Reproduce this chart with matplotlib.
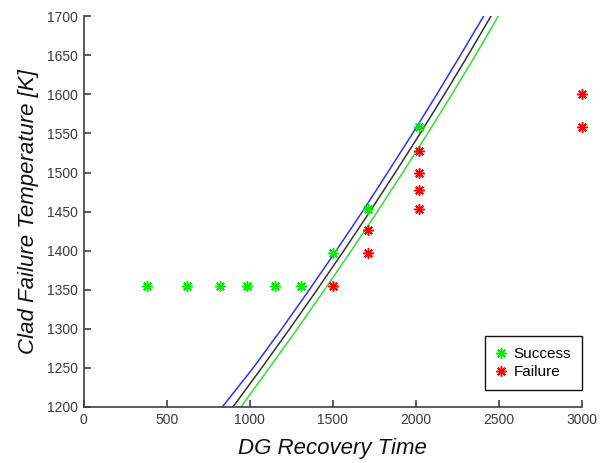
import matplotlib
matplotlib.use("Agg")
import matplotlib.pyplot as plt

# success / failure runs
success_time = [380, 620, 820, 985, 1150, 1310, 1500, 1710, 2020]
success_temp = [1355, 1355, 1355, 1355, 1355, 1355, 1397, 1453, 1558]
failure_time = [1500, 1710, 1710, 2020, 2020, 2020, 2020, 3000, 3000]
failure_temp = [1355, 1427, 1397, 1527, 1500, 1477, 1453, 1600, 1558]

# limit-surface curves (time read at given temperatures)
curve_temp = [1200, 1250, 1300, 1350, 1400, 1450, 1500, 1550, 1600, 1650, 1700]
curve_mid = [898, 1071, 1240, 1405, 1566, 1723, 1876, 2026, 2172, 2314, 2452]
curve_low = [834, 1020, 1192, 1358, 1520, 1678, 1830, 1980, 2126, 2268, 2408]
curve_high = [946, 1117, 1286, 1450, 1611, 1768, 1921, 2071, 2217, 2359, 2496]

plt.rcParams['font.family'] = ['Liberation Sans', 'DejaVu Sans']

fig = plt.figure(figsize=(6.03, 4.63), dpi=100)
ax = fig.add_axes([0.139, 0.121, 0.826, 0.844])

ax.plot(curve_low, curve_temp, color='#3030ff', lw=1.1)
ax.plot(curve_mid, curve_temp, color='#333333', lw=1.1)
ax.plot(curve_high, curve_temp, color='#30e030', lw=1.1)

star = (8, 2, 0)
ax.plot(success_time, success_temp, ls='none', marker=star, ms=7.5, mew=1.1,
        color='#00ee00', label='Success', clip_on=False)
ax.plot(failure_time, failure_temp, ls='none', marker=star, ms=7.5, mew=1.1,
        color='#ff0000', label='Failure', clip_on=False)

ax.set_xlim(0, 3000)
ax.set_ylim(1200, 1700)
ax.set_xticks(range(0, 3001, 500))
ax.set_yticks(range(1200, 1701, 50))

for s in ['top', 'right']:
    ax.spines[s].set_visible(False)
for s in ['left', 'bottom']:
    ax.spines[s].set_color('#404040')
    ax.spines[s].set_linewidth(1.2)
ax.tick_params(direction='in', length=5, width=1.2, color='#404040',
               labelsize=10, labelcolor='#3a3a3a', pad=4)

ax.set_xlabel('DG Recovery Time', fontsize=16, style='italic', color='#111111', labelpad=8)
ax.set_ylabel('Clad Failure Temperature [K]', fontsize=16, style='italic', color='#111111', labelpad=6)

leg = ax.legend(loc='lower right', bbox_to_anchor=(1.0, 0.043), borderaxespad=0,
                fontsize=11, fancybox=False, framealpha=1, handlelength=0.8,
                handletextpad=0.4, borderpad=0.7, labelspacing=0.3)
leg.get_frame().set_edgecolor('#111111')
leg.get_frame().set_linewidth(1.0)

fig.savefig('out.png', dpi=100)
